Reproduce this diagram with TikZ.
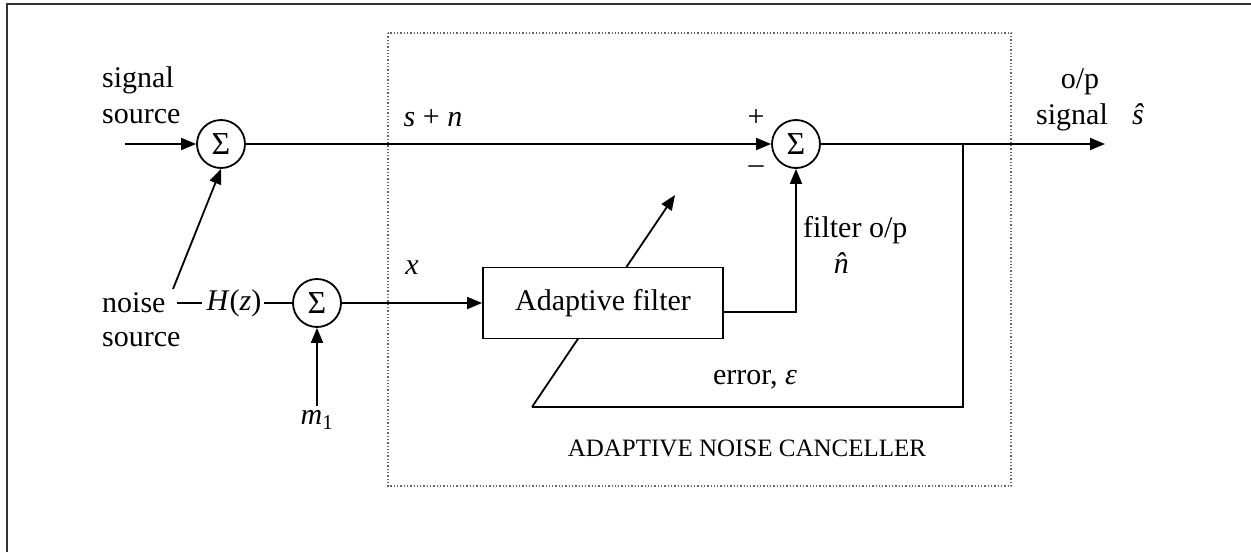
\documentclass[tikz,border=0pt]{standalone}
\usepackage{fontspec}
\setmainfont{Liberation Serif}
\usetikzlibrary{arrows.meta}
\begin{document}
\begin{tikzpicture}[x=1pt,y=-1pt,
  every node/.style={font=\fontsize{30}{34}\selectfont, inner sep=0pt},
  wire/.style={line width=1.8pt},
  arr/.style={wire,-{Triangle[length=15pt,width=12pt]}},
  sumnode/.style={circle,draw,line width=1.8pt,minimum size=48pt,inner sep=0pt,fill=white,font=\fontsize{32}{34}\selectfont},
  blk/.style={draw,line width=1.8pt,fill=white,minimum width=240pt,minimum height=71pt}]
\useasboundingbox (0,0) rectangle (1251,552);
\fill[white] (0,0) rectangle (1251,552);
% outer frame
\draw[line width=2pt,black!80] (7,552) -- (7,4) -- (1251,4);
% dotted box
\draw[line width=1.3pt,dotted,black!60] (388,33) rectangle (1011,486);
% nodes
\node[sumnode] (s1) at (221,144) {Σ};
\node[sumnode] (s2) at (317,303) {Σ};
\node[sumnode] (s3) at (796,144) {Σ};
\coordinate (fbA) at (532,407);
\coordinate (fbB) at (675,195);
\draw[arr] (fbA) -- (fbB);
\node[blk] (af) at (603,303) {Adaptive filter};
% texts
\node[anchor=west] (sig) at (102,80) {signal};
\node[anchor=west] (sigsrc) at (102,117) {source};
\node[anchor=west] (noise) at (102,303) {noise};
\node[anchor=west] (nsrc) at (102,340) {source};
\node[anchor=center] (hz) at (234,303) {\textit{H}(\textit{z})};
\node (m1) at (317,420) {\textit{m}\textsubscript{1}};
\node (sn) at (433,118) {\textit{s} + \textit{n}};
\node (xl) at (412,268) {\textit{x}};
\node (plus) at (756,118) {+};
\node (minus) at (756,170) {\textendash};
\node[anchor=west] (fop) at (803,230) {filter o/p};
\node (nhat) at (847,263) {\textit{n̂}};
\node (err) at (755,380) {error, \textit{ε}};
\node[font=\fontsize{25}{30}\selectfont] (anc) at (747,448) {ADAPTIVE NOISE CANCELLER};
\node (op) at (1080,82) {o/p};
\node (sigl) at (1072,117) {signal};
\node (shat) at (1138,114) {\textit{ŝ}};
% connectors
\coordinate (sigin) at (125,144);
\draw[arr] (sigin) -- (s1);
\coordinate (nstart) at (173,289);
\draw[arr] (nstart) -- (s1.south);
\draw[wire] (177,303) -- (202,303);
\draw[wire] (hz.east) ++(2,0) -- (s2.west);
\draw[arr] (m1.north) ++(0,-4) -- (s2.south);
\draw[arr] (s2.east) -- (af.west);
\draw[arr] (s1.east) -- (s3.west);
\coordinate (out) at (1105,144);
\coordinate (br) at (963,144);
\draw[arr] (s3.east) -- (out);
\coordinate (afo) at (af.east |- 0,312);
\draw[arr] (afo) -| (s3.south);
\draw[wire] (br) |- (fbA);
\end{tikzpicture}
\end{document}
